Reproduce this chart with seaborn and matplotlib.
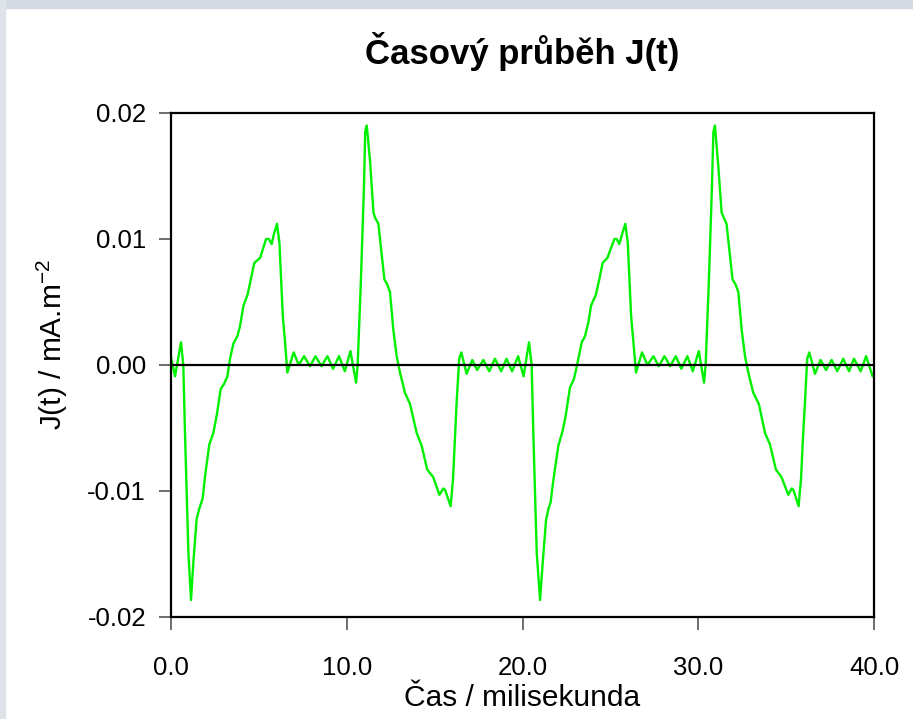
import matplotlib
matplotlib.use("Agg")
import matplotlib.pyplot as plt
import seaborn as sns
import pandas as pd
from matplotlib.patches import Rectangle

# ─── Data ────────────────────────────────────────────────────────────────────
t_ms = [
    0.00, 0.23, 0.57, 0.70, 0.80, 0.99, 1.14, 1.27, 1.46, 1.61, 1.80, 1.94,
    2.18, 2.41, 2.60, 2.83, 3.02, 3.21, 3.36, 3.55, 3.78, 3.93, 4.12, 4.36,
    4.54, 4.74, 5.07, 5.41, 5.56, 5.73, 5.84, 6.03, 6.17, 6.36, 6.49, 6.62,
    6.98, 7.27, 7.57, 7.91, 8.22, 8.56, 8.90, 9.22, 9.56, 9.89, 10.21, 10.53,
    10.62, 10.80, 10.98, 11.05, 11.14, 11.33, 11.52, 11.61, 11.80, 11.99, 12.14,
    12.30, 12.46, 12.65, 12.84, 13.03, 13.31, 13.60, 13.98, 14.26, 14.58, 14.92,
    15.27, 15.50, 15.59, 15.91, 16.05, 16.15, 16.25, 16.40, 16.52, 16.82, 17.14,
    17.42, 17.77, 18.11, 18.43, 18.79, 19.09, 19.41, 19.75, 20.06, 20.37, 20.52,
    20.62, 20.81, 21.00, 21.15, 21.34, 21.48, 21.60, 21.76, 22.04, 22.29, 22.46,
    22.70, 22.93, 23.12, 23.37, 23.56, 23.75, 23.90, 24.18, 24.37, 24.56, 24.83,
    25.23, 25.36, 25.51, 25.65, 25.85, 25.99, 26.18, 26.31, 26.46, 26.80, 27.11,
    27.45, 27.75, 28.08, 28.40, 28.72, 29.04, 29.38, 29.69, 30.03, 30.33, 30.42,
    30.60, 30.78, 30.86, 30.95, 31.14, 31.33, 31.45, 31.61, 31.80, 31.95, 32.12,
    32.28, 32.47, 32.66, 32.85, 33.13, 33.45, 33.80, 34.08, 34.42, 34.74, 35.12,
    35.32, 35.41, 35.71, 35.85, 35.95, 36.07, 36.20, 36.32, 36.64, 36.96, 37.27,
    37.59, 37.91, 38.25, 38.58, 38.86, 39.24, 39.55, 39.92, 40.00,
]
j_val = [
    0.0006, -0.0009, 0.0018, 0.0000, -0.0056, -0.0149, -0.01865, -0.0157, -0.0122, -0.0114, -0.0106, -0.0088,
    -0.0063, -0.0054, -0.0040, -0.0019, -0.0015, -0.0009, 0.0005, 0.0017, 0.0023, 0.0031, 0.0047, 0.0056,
    0.0068, 0.0081, 0.0085, 0.0100, 0.0100, 0.0096, 0.0103, 0.0112, 0.0097, 0.0039, 0.0018, -0.0006,
    0.0010, 0.0000, 0.0007, -0.0001, 0.0007, -0.0001, 0.0007, -0.0003, 0.0007, -0.0005, 0.0011, -0.0014,
    0.0000, 0.0065, 0.0142, 0.0185, 0.0190, 0.0161, 0.0121, 0.0117, 0.0112, 0.0087, 0.0068,
    0.0064, 0.0058, 0.0028, 0.0007, -0.0006, -0.0022, -0.0031, -0.0054, -0.0064, -0.0083, -0.0089,
    -0.0103, -0.0098, -0.0099, -0.0112, -0.0090, -0.0060, -0.0030, 0.0005, 0.0010, -0.0007, 0.0004,
    -0.0004, 0.0004, -0.0005, 0.0005, -0.0005, 0.0005, -0.0005, 0.0007, -0.0009, 0.0018, 0.0000,
    -0.0056, -0.0149, -0.01865, -0.0157, -0.0123, -0.0114, -0.0109, -0.0091, -0.0064, -0.0052, -0.0040,
    -0.0018, -0.0011, 0.0001, 0.0018, 0.0023, 0.0034, 0.0047, 0.0056, 0.0068, 0.0081, 0.0085,
    0.0100, 0.0100, 0.0096, 0.0103, 0.0112, 0.0097, 0.0039, 0.0018, -0.0006, 0.0010, 0.0000,
    0.0007, -0.0001, 0.0007, -0.0001, 0.0007, -0.0003, 0.0007, -0.0005, 0.0011, -0.0014, 0.0000,
    0.0065, 0.0142, 0.0185, 0.0190, 0.0158, 0.0121, 0.0117, 0.0112, 0.0087, 0.0068, 0.0064,
    0.0058, 0.0028, 0.0007, -0.0006, -0.0022, -0.0031, -0.0054, -0.0063, -0.0083, -0.0089, -0.0103,
    -0.0098, -0.0099, -0.0112, -0.0090, -0.0060, -0.0030, 0.0005, 0.0010, -0.0007, 0.0004, -0.0004,
    0.0004, -0.0005, 0.0005, -0.0005, 0.0005, -0.0005, 0.0007, -0.0009, -0.0007,
]

x_ticks = [0, 10, 20, 30, 40]
x_labels = ["0.0", "10.0", "20.0", "30.0", "40.0"]
y_ticks = [-0.02, -0.01, 0.0, 0.01, 0.02]
y_labels = ["-0.02", "-0.01", "0.00", "0.01", "0.02"]

df = pd.DataFrame({"t": t_ms, "J": j_val})

# ─── Style ───────────────────────────────────────────────────────────────────
sns.set_theme(style="ticks")
plt.rcParams["font.family"] = ["Liberation Sans", "DejaVu Sans"]
plt.rcParams["mathtext.fontset"] = "custom"
plt.rcParams["mathtext.rm"] = "Liberation Sans"
plt.rcParams["text.color"] = "black"
plt.rcParams["axes.labelcolor"] = "black"
plt.rcParams["xtick.labelcolor"] = "black"
plt.rcParams["ytick.labelcolor"] = "black"

fig = plt.figure(figsize=(9.13, 7.19), dpi=100, facecolor="white")
# grey frame strips on top and left edge
fig.patches.append(Rectangle((0, 1 - 8 / 719), 1, 8 / 719, transform=fig.transFigure,
                             color="#d3dae1", zorder=0))
fig.patches.append(Rectangle((0, 0), 5 / 913, 1, transform=fig.transFigure,
                             color="#dde3e8", zorder=0))

ax = fig.add_axes([171 / 913, 1 - 617 / 719, 703 / 913, 504 / 719])

sns.lineplot(data=df, x="t", y="J", ax=ax, color="#00f000", lw=1.7,
             sort=False, estimator=None)
ax.axhline(0, color="black", lw=1.6, zorder=3)

ax.set_xlim(0, 40)
ax.set_ylim(-0.02, 0.02)
ax.set_xticks(x_ticks)
ax.set_xticklabels(x_labels)
ax.set_yticks(y_ticks)
ax.set_yticklabels(y_labels)
ax.tick_params(axis="both", direction="out", length=9, width=1.2, color="#555555",
               labelsize=18.5)
ax.tick_params(axis="x", pad=19)
ax.tick_params(axis="y", pad=9)
for s in ax.spines.values():
    s.set_visible(True)
    s.set_color("black")
    s.set_linewidth(1.6)

ax.set_xlabel("Čas / milisekunda", fontsize=21.5, labelpad=3)
ax.set_ylabel("J(t) / mA.m$^{\\mathrm{-2}}$", fontsize=21.5)
ax.yaxis.set_label_coords(-0.143, 0.54)
ax.set_title("Časový průběh J(t)", fontsize=25, fontweight="bold", pad=35)

fig.savefig("out.png", dpi=100, facecolor=fig.get_facecolor())
